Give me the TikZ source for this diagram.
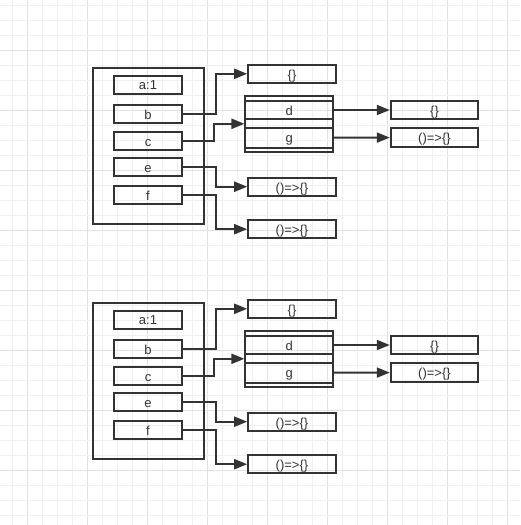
\documentclass[tikz,border=0pt]{standalone}
\usepackage{fontspec}
\setsansfont{Liberation Sans}
\usetikzlibrary{arrows.meta,positioning,calc}
\definecolor{lineclr}{RGB}{51,51,51}
\definecolor{gridfine}{RGB}{240,240,240}
\definecolor{gridbold}{RGB}{226,226,226}

\tikzset{
  field/.style={draw=lineclr,line width=2pt,minimum width=68pt,minimum height=18pt,
    inner sep=0pt,text height=10.6pt,text depth=0pt,
    font=\sffamily\fontsize{13}{15}\selectfont,text=lineclr},
  valbox/.style={field,minimum width=87.6pt},
  link/.style={draw=lineclr,line width=2pt,-{Triangle[length=13pt,width=10pt]}},
}

\begin{document}
\begin{tikzpicture}[x=1pt,y=-1pt]
  \useasboundingbox (0,0) rectangle (520,525);
  \fill[white] (0,0) rectangle (520,525);
  % background grid: fine every 15px, darker every 60px
  \foreach \k in {0,...,33}{
    \pgfmathtruncatemacro\m{mod(\k,4)}
    \ifnum\m=1
      \draw[gridbold,line width=1pt] ({12.3+15*\k},0) -- ++(0,525);
    \else
      \draw[gridfine,line width=1pt] ({12.3+15*\k},0) -- ++(0,525);
    \fi
  }
  \foreach \k in {0,...,34}{
    \pgfmathtruncatemacro\m{mod(\k,4)}
    \ifnum\m=3
      \draw[gridbold,line width=1pt] (0,{5+15*\k}) -- ++(520,0);
    \else
      \draw[gridfine,line width=1pt] (0,{5+15*\k}) -- ++(520,0);
    \fi
  }
  % two identical object diagrams
  \foreach \g/\oy in {t/0,u/235}{
    \begin{scope}[shift={(0,\oy)}]
      \node[draw=lineclr,line width=2pt,minimum width=111.4pt,minimum height=155.7pt,
        inner sep=0pt] (\g-frame) at (148.5,145.7) {};
      \node[field] (\g-a) at (148,84.6)  {a:1};
      \node[field] (\g-b) at (148,113.8) {b};
      \node[field] (\g-c) at (148,140.8) {c};
      \node[field] (\g-e) at (148,167)   {e};
      \node[field] (\g-f) at (148,194.7) {f};
      % values
      \node[valbox] (\g-obj) at (292,73.8)  {\{\}};
      \node[valbox] (\g-fe)  at (292,186.7) {()=>\{\}};
      \node[valbox] (\g-ff)  at (292,229.2) {()=>\{\}};
      % nested object
      \node[valbox,minimum width=87.7pt,minimum height=56pt] (\g-dg) at (289.3,123.8) {};
      \node[valbox,minimum width=87.7pt,minimum height=18.4pt] (\g-d) at (289.3,110) {d};
      \node[valbox,minimum width=87.7pt,minimum height=20pt] (\g-gg) at (289.3,137.5) {g};
      \node[valbox,minimum width=87.4pt,minimum height=18.4pt] (\g-dv) at (434.5,110) {\{\}};
      \node[valbox,minimum width=87.4pt,minimum height=18.4pt] (\g-gv) at (434.5,137.6) {()=>\{\}};
      % references
      \draw[link] (\g-b.east) -- ++(33,0) |- (\g-obj.west);
      \draw[link] (\g-c.east) -- ++(30.5,0) |- (\g-dg.west);
      \draw[link] (\g-e.east) -- ++(33,0) |- (\g-fe.west);
      \draw[link] (\g-f.east) -- ++(33,0) |- (\g-ff.west);
      \draw[link] (\g-d.east) -- (\g-dv.west);
      \draw[link] (\g-gg.east) -- (\g-gv.west);
    \end{scope}
  }
\end{tikzpicture}
\end{document}
